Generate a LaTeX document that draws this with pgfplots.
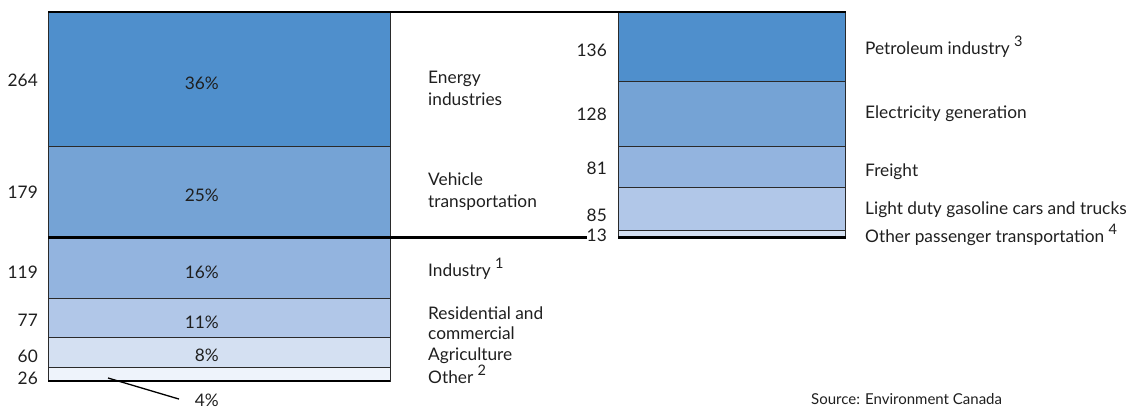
\documentclass[border=0pt]{standalone}
\usepackage{pgfplots}
\pgfplotsset{compat=1.18}
\usepackage{fontspec}
\setmainfont{Lato}
\definecolor{c1}{HTML}{4F8FCC}
\definecolor{c2}{HTML}{75A3D5}
\definecolor{c3}{HTML}{93B4DF}
\definecolor{c4}{HTML}{B1C7E8}
\definecolor{c5}{HTML}{D4E0F2}
\definecolor{c6}{HTML}{EEF3FB}
\definecolor{edge}{HTML}{2A2A2A}
\newcommand{\sups}[1]{\raisebox{0.45em}{\fontsize{14.5bp}{14.5bp}\selectfont #1}}
\begin{document}
\begin{tikzpicture}[every node/.style={font=\fontsize{17.3bp}{19bp}\selectfont, text=black!88, inner sep=0pt, text height=0.7em, text depth=0pt, yshift=-3bp}]
\pgfplotsset{frame/.style={at={(0,0)}, anchor=south west, scale only axis, width=1128bp, height=410bp,
  xmin=0, xmax=1128, ymin=-56.98, ymax=748.57, hide axis, clip=false}}
% left bar: Canada total emissions by sector
\begin{axis}[frame, ybar stacked, bar width=341.7]
\addplot[fill=c6, draw=edge, line width=0.9bp] coordinates {(219.15,26)};
\addplot[fill=c5, draw=edge, line width=0.9bp] coordinates {(219.15,60)};
\addplot[fill=c4, draw=edge, line width=0.9bp] coordinates {(219.15,77)};
\addplot[fill=c3, draw=edge, line width=0.9bp] coordinates {(219.15,119)};
\addplot[fill=c2, draw=edge, line width=0.9bp] coordinates {(219.15,179)};
\addplot[fill=c1, draw=edge, line width=0.9bp] coordinates {(219.15,264)};
\end{axis}
% right bar: breakdown of energy industries and vehicle transportation
\begin{axis}[frame, ybar stacked, bar width=227.4]
\addplot[fill=none, draw=none] coordinates {(732,282)};
\addplot[fill=c5, draw=edge, line width=0.9bp] coordinates {(732,13)};
\addplot[fill=c4, draw=edge, line width=0.9bp] coordinates {(732,85)};
\addplot[fill=c3, draw=edge, line width=0.9bp] coordinates {(732,81)};
\addplot[fill=c2, draw=edge, line width=0.9bp] coordinates {(732,128)};
\addplot[fill=c1, draw=edge, line width=0.9bp] coordinates {(732,136)};
\end{axis}
% connector lines
\begin{axis}[frame]
\addplot[black, line width=2.2bp, no marks] coordinates {(48,725) (846,725)};
\addplot[black, line width=2.2bp, no marks] coordinates {(48,282) (587,282)};
\addplot[black, line width=2.2bp, no marks] coordinates {(618,282) (846,282)};
\addplot[black, line width=1.8bp, no marks] coordinates {(48,0) (390,0)};
\addplot[black, line width=1.3bp, no marks] coordinates {(108,5.9) (179,-35.5)};
\end{axis}
% left values
\node[anchor=east] at (38bp,330bp) {264};
\node[anchor=east] at (38bp,218bp) {179};
\node[anchor=east] at (38bp,138bp) {119};
\node[anchor=east] at (38bp,90bp) {77};
\node[anchor=east] at (38bp,54bp) {60};
\node[anchor=east] at (38bp,32bp) {26};
% percentages
\node[anchor=east] at (219bp,327bp) {36\%};
\node[anchor=east] at (219bp,215bp) {25\%};
\node[anchor=east] at (219bp,138bp) {16\%};
\node[anchor=east] at (219bp,88bp) {11\%};
\node[anchor=east] at (219bp,55bp) {8\%};
\node[anchor=east] at (219bp,9.5bp) {4\%};
% middle labels
\node[anchor=west] at (428bp,333bp) {Energy};
\node[anchor=west] at (428bp,311bp) {industries};
\node[anchor=west] at (428bp,231bp) {Vehicle};
\node[anchor=west] at (428bp,209bp) {transportation};
\node[anchor=west] at (428bp,140bp) {Industry \sups{1}};
\node[anchor=west] at (428bp,97bp) {Residential and};
\node[anchor=west] at (428bp,77bp) {commercial};
\node[anchor=west] at (428bp,56bp) {Agriculture};
\node[anchor=west] at (428bp,33bp) {Other \sups{2}};
% right values
\node[anchor=east] at (607bp,360bp) {136};
\node[anchor=east] at (607bp,296bp) {128};
\node[anchor=east] at (607bp,242bp) {81};
\node[anchor=east] at (607bp,195bp) {85};
\node[anchor=east] at (607bp,174.5bp) {13};
% right labels
\node[anchor=west] at (865bp,362bp) {Petroleum industry \sups{3}};
\node[anchor=west] at (865bp,298bp) {Electricity generation};
\node[anchor=west] at (865bp,240bp) {Freight};
\node[anchor=west] at (865bp,202bp) {Light duty gasoline cars and trucks};
\node[anchor=west] at (865bp,174.3bp) {Other passenger transportation \sups{4}};
\node[anchor=west, font=\fontsize{15bp}{17bp}\selectfont] at (811bp,12bp) {Source: Environment Canada};
\pgfresetboundingbox
\path (0,0) rectangle (1128bp,410bp);
\end{tikzpicture}
\end{document}
